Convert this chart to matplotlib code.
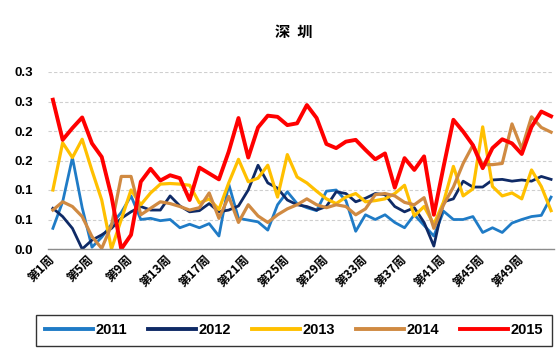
import numpy as np
import matplotlib
matplotlib.use("Agg")
import matplotlib.pyplot as plt
import matplotlib.transforms as mtransforms

weeks = np.arange(1, 53)

y2011 = [0.035, 0.08, 0.155, 0.07, 0.003, 0.02, 0.042, 0.062, 0.09, 0.05,
         0.052, 0.048, 0.05, 0.036, 0.042, 0.036, 0.043, 0.022, 0.11, 0.052,
         0.049, 0.046, 0.032, 0.075, 0.097, 0.077, 0.07, 0.065, 0.098, 0.1,
         0.082, 0.03, 0.058, 0.05, 0.058, 0.045, 0.036, 0.058, 0.04, 0.022,
         0.064, 0.05, 0.05, 0.055, 0.028, 0.036, 0.028, 0.044, 0.05, 0.055,
         0.057, 0.088]
y2012 = [0.069, 0.055, 0.035, 0.0, 0.015, 0.024, 0.035, 0.052, 0.063, 0.072,
         0.066, 0.066, 0.09, 0.073, 0.063, 0.065, 0.077, 0.063, 0.066, 0.073,
         0.1, 0.142, 0.112, 0.103, 0.083, 0.075, 0.072, 0.066, 0.072, 0.097,
         0.094, 0.08, 0.086, 0.094, 0.092, 0.072, 0.063, 0.07, 0.045, 0.005,
         0.08, 0.085, 0.115, 0.105, 0.105, 0.117, 0.118, 0.115, 0.117, 0.115,
         0.123, 0.118]
y2013 = [0.10, 0.18, 0.155, 0.186, 0.133, 0.083, 0.0, 0.05, 0.10, 0.075,
         0.095, 0.11, 0.111, 0.11, 0.108, 0.078, 0.085, 0.067, 0.112, 0.152,
         0.114, 0.12, 0.142, 0.088, 0.16, 0.122, 0.112, 0.098, 0.085, 0.077,
         0.088, 0.094, 0.08, 0.082, 0.085, 0.094, 0.108, 0.056, 0.072, 0.042,
         0.08, 0.14, 0.09, 0.102, 0.207, 0.106, 0.09, 0.095, 0.085, 0.134,
         0.106, 0.065]
y2014 = [0.066, 0.08, 0.072, 0.055, 0.021, 0.001, 0.04, 0.123, 0.123, 0.058,
         0.069, 0.08, 0.077, 0.072, 0.066, 0.07, 0.095, 0.052, 0.089, 0.045,
         0.075, 0.056, 0.045, 0.058, 0.068, 0.075, 0.085, 0.075, 0.07, 0.075,
         0.072, 0.058, 0.068, 0.092, 0.094, 0.09, 0.079, 0.075, 0.087, 0.035,
         0.075, 0.105, 0.145, 0.176, 0.143, 0.143, 0.145, 0.212, 0.17, 0.224,
         0.206, 0.198]
y2015 = [0.253, 0.185, 0.205, 0.223, 0.179, 0.156, 0.089, 0.0, 0.024, 0.114,
         0.136, 0.116, 0.125, 0.12, 0.083, 0.138, 0.128, 0.118, 0.165, 0.222,
         0.155, 0.206, 0.226, 0.224, 0.21, 0.213, 0.244, 0.222, 0.178, 0.171,
         0.182, 0.185, 0.168, 0.152, 0.162, 0.104, 0.154, 0.134, 0.157, 0.058,
         0.14, 0.219, 0.199, 0.176, 0.137, 0.171, 0.186, 0.179, 0.161, 0.207,
         0.233, 0.225]

series = [("2011", y2011, "#1f7bc6", 2.0),
          ("2012", y2012, "#0f2a66", 2.0),
          ("2013", y2013, "#ffc000", 2.3),
          ("2014", y2014, "#d08a42", 2.3),
          ("2015", y2015, "#ff0000", 2.8)]

yticks = [0.0, 0.05, 0.10, 0.15, 0.20, 0.25, 0.30]
ytick_labels = ["0.0", "0.1", "0.1", "0.2", "0.2", "0.3", "0.3"]
xtick_weeks = list(range(1, 53, 4))
xtick_labels = ["第%d周" % w for w in xtick_weeks]

cjk = ["Noto Sans CJK SC", "DejaVu Sans"]

fig = plt.figure(figsize=(5.56, 3.53), dpi=100)
ax = fig.add_axes([48 / 556, 104 / 353, 506 / 556, 177 / 353])

for name, vals, col, lw in series:
    ax.plot(weeks, vals, color=col, lw=lw, label=name, solid_joinstyle="round")

ax.set_xlim(0.5, 52.3)
ax.set_ylim(0, 0.30)
ax.set_yticks(yticks)
ax.set_yticklabels(ytick_labels, fontfamily="Liberation Sans",
                   fontweight="bold", fontsize=9.5)
ax.set_xticks(xtick_weeks)
ax.set_xticklabels(xtick_labels, rotation=45, ha="right", va="center",
                   rotation_mode="anchor", fontsize=8.8, family=cjk,
                   fontweight="bold")
# nudge the rotated labels a bit to the right, like the original
shift = mtransforms.ScaledTranslation(4 / 72, 0, fig.dpi_scale_trans)
for lbl in ax.get_xticklabels():
    lbl.set_transform(lbl.get_transform() + shift)
ax.tick_params(axis="y", length=0, pad=11)
ax.tick_params(axis="x", length=0, pad=6)

ax.grid(axis="y", color="#cfcfcf", ls=(0, (3, 2)), lw=0.8)
ax.set_axisbelow(True)
for s in ["left", "right", "top"]:
    ax.spines[s].set_visible(False)
ax.spines["bottom"].set_color("#8c8c8c")
ax.spines["bottom"].set_linewidth(1.0)

fig.text(294 / 556, 1 - 32 / 353, "深  圳", ha="center", va="center",
         family=cjk, fontweight="bold", fontsize=11)

leg = fig.legend(loc="lower left", ncol=5, mode="expand",
                 bbox_to_anchor=(36 / 556, 7 / 353, 516 / 556, 35 / 353),
                 prop={"family": "Liberation Sans", "weight": "bold", "size": 10.5},
                 handlelength=3.3, handletextpad=0.2, columnspacing=1.3,
                 fancybox=False, frameon=True, borderaxespad=0, borderpad=0.6)
leg.get_frame().set_edgecolor("black")
leg.get_frame().set_linewidth(1.0)
for h in leg.get_lines():
    h.set_linewidth(2.8)

fig.savefig("out.png", dpi=100)
